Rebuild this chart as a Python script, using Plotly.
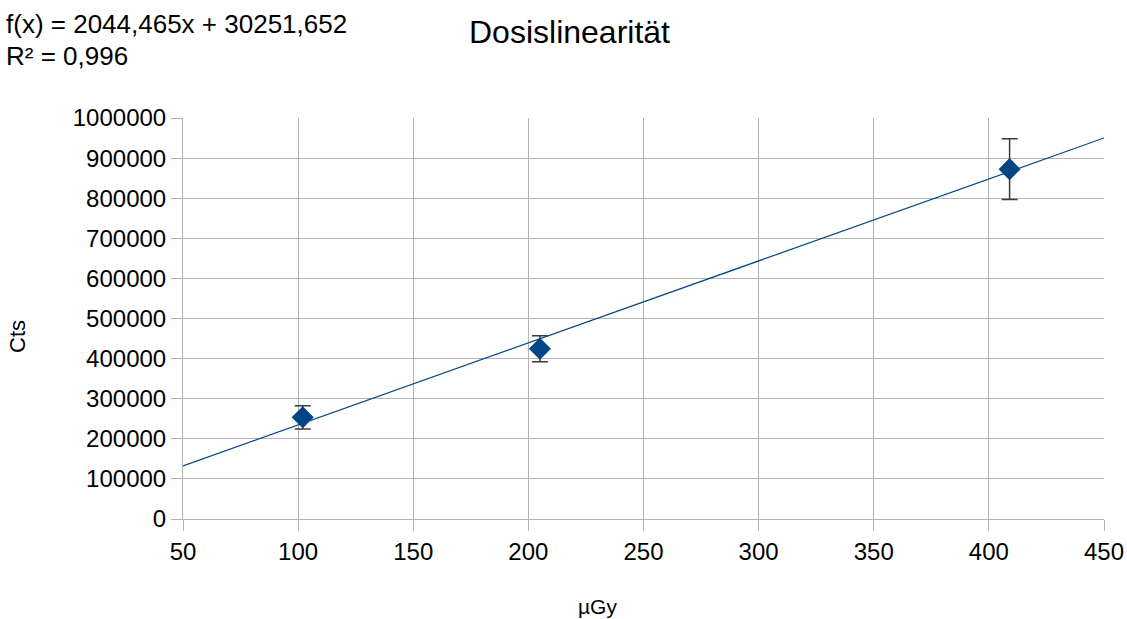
import plotly.graph_objects as go

dose = [102, 205, 409]
counts = [253600, 424500, 872500]
count_err = [29000, 32500, 76000]

slope = 2044.465
intercept = 30251.652
fit_x = [50, 450]
fit_y = [slope * v + intercept for v in fit_x]

x_ticks = [50, 100, 150, 200, 250, 300, 350, 400, 450]
y_ticks = [0, 100000, 200000, 300000, 400000, 500000, 600000, 700000, 800000, 900000, 1000000]

blue = "#004586"
grid = "#b3b3b3"
font = "Liberation Sans, Arial, sans-serif"

# plot area in page pixels
PX0, PX1, PY0, PY1 = 183, 1104, 118, 519
PW, PH = PX1 - PX0, PY1 - PY0


def px(x):
    return (x - PX0) / PW


def py(y):
    return (PY1 - y) / PH


fig = go.Figure()
fig.add_trace(go.Scatter(
    x=fit_x, y=fit_y, mode="lines",
    line=dict(color=blue, width=1.2), showlegend=False, hoverinfo="skip"))
fig.add_trace(go.Scatter(
    x=dose, y=counts, mode="markers",
    marker=dict(symbol="diamond", size=17, color=blue),
    error_y=dict(type="data", array=count_err, visible=True,
                 color="#3a3a3a", thickness=1.5, width=8),
    showlegend=False))

fig.update_layout(
    width=1127, height=619,
    margin=dict(l=PX0, r=1127 - PX1, t=PY0, b=619 - PY1),
    paper_bgcolor="white", plot_bgcolor="white",
    font=dict(family=font, color="black", size=22),
    xaxis=dict(range=[50, 450], tickvals=x_ticks, ticktext=[str(v) for v in x_ticks],
               showgrid=True, gridcolor=grid, gridwidth=1,
               showline=True, linecolor=grid, linewidth=1,
               ticks="outside", ticklen=11, tickcolor=grid,
               tickfont=dict(size=24), zeroline=False, automargin=False),
    yaxis=dict(range=[0, 1000000], tickvals=y_ticks, ticktext=[str(v) for v in y_ticks],
               showgrid=True, gridcolor=grid, gridwidth=1,
               showline=True, linecolor=grid, linewidth=1,
               ticks="outside", ticklen=11, tickcolor=grid,
               tickfont=dict(size=24), zeroline=False, automargin=False),
    annotations=[
        dict(text="Dosislinearität", xref="paper", yref="paper",
             x=px(569), y=py(32), xanchor="center", yanchor="middle",
             showarrow=False, font=dict(size=32)),
        dict(text="f(x) = 2044,465x + 30251,652", xref="paper", yref="paper",
             x=px(4), y=py(24), xanchor="left", yanchor="middle",
             showarrow=False, font=dict(size=26)),
        dict(text="R² = 0,996", xref="paper", yref="paper",
             x=px(4), y=py(56), xanchor="left", yanchor="middle",
             showarrow=False, font=dict(size=26)),
        dict(text="Cts", xref="paper", yref="paper", textangle=-90,
             x=px(17), y=py(337), xanchor="center", yanchor="middle",
             showarrow=False, font=dict(size=22)),
        dict(text="µGy", xref="paper", yref="paper",
             x=px(597), y=py(606), xanchor="center", yanchor="middle",
             showarrow=False, font=dict(size=21)),
    ],
)

fig.write_html(
    "out.html",
    config={"displayModeBar": False},
    post_script="document.body.style.margin='0';document.body.style.overflow='hidden';",
)
